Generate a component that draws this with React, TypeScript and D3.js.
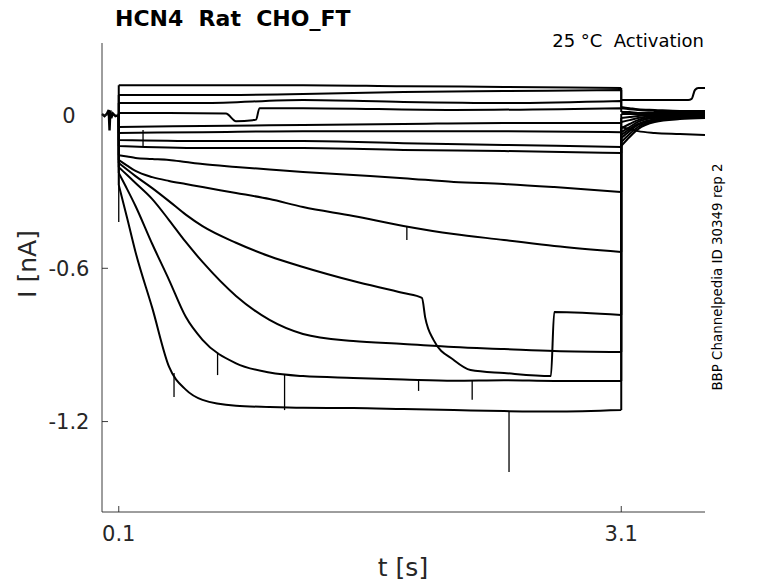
import * as React from 'react';
import * as d3 from 'd3';

// holding period before the test pulse (all sweeps overlap here)
const holdTime = [0, 0.015, 0.03, 0.04, 0.045, 0.05, 0.055, 0.065, 0.08, 0.1];
const holdCurrent = [0.004, -0.004, 0.006, 0.02, -0.06, 0.018, -0.012, 0.006, -0.004, 0];

// sample times used for the test pulse
const pulseTime = [0.1, 0.15, 0.2, 0.3, 0.4, 0.5, 0.6, 0.8, 1.0, 1.2, 1.5, 1.8, 2.1, 2.4, 2.7, 3.1];
const flatTime = [0.1, 0.6, 1.2, 1.8, 2.4, 3.1];
const dipTime = [0.1, 0.4, 0.74, 0.8, 0.9, 0.92, 0.94, 1.2, 2.1, 3.1];
const jumpTime = [0.1, 0.2, 0.3, 0.4, 0.5, 0.6, 0.8, 1.0, 1.2, 1.5, 1.8, 1.91, 1.93, 1.98, 2.1, 2.2, 2.4, 2.68, 2.7, 3.1];

// sample times for the tail after the pulse
const tailTime = [3.1, 3.15, 3.2, 3.3, 3.45, 3.6];
const tailTimeTop = [3.1, 3.3, 3.5, 3.52, 3.54, 3.56, 3.6];

// currents during the pulse [nA]
const sweepU1 = [0.117, 0.117, 0.117, 0.113, 0.11, 0.106];
const sweepU2 = [0.078, 0.078, 0.082, 0.09, 0.094, 0.098];
const sweepU3 = [0.047, 0.047, 0.059, 0.051, 0.047, 0.055];
const sweepU4 = [0.008, 0.008, 0.006, -0.024, -0.02, -0.018, 0.027, 0.027, 0.02, 0.027];
const sweepU5 = [-0.047, -0.043, -0.039, -0.035, -0.031, -0.031];
const sweepU6 = [-0.07, -0.067, -0.063, -0.063, -0.063, -0.067];
const sweepU7 = [-0.098, -0.102, -0.102, -0.11, -0.117, -0.125];
const sweepU8 = [-0.121, -0.129, -0.129, -0.137, -0.141, -0.149];
const sweepF = [-0.157, -0.162, -0.168, -0.172, -0.176, -0.184, -0.192, -0.203, -0.213, -0.223, -0.235, -0.247, -0.262, -0.27, -0.282, -0.301];
const sweepE = [-0.176, -0.198, -0.219, -0.243, -0.258, -0.27, -0.282, -0.305, -0.329, -0.36, -0.395, -0.434, -0.466, -0.489, -0.513, -0.536];
const sweepD = [-0.188, -0.239, -0.286, -0.337, -0.39, -0.435, -0.5, -0.553, -0.595, -0.65, -0.697, -0.716, -0.794, -0.881, -0.959, -0.998, -1.01, -1.022, -0.771, -0.783];
const sweepC = [-0.204, -0.235, -0.266, -0.329, -0.411, -0.497, -0.575, -0.708, -0.802, -0.857, -0.885, -0.896, -0.908, -0.916, -0.924, -0.928];
const sweepB = [-0.227, -0.29, -0.356, -0.505, -0.645, -0.79, -0.88, -0.972, -1.008, -1.022, -1.029, -1.035, -1.04, -1.038, -1.041, -1.041];
const sweepA = [-0.274, -0.403, -0.536, -0.755, -0.985, -1.075, -1.115, -1.138, -1.143, -1.146, -1.147, -1.151, -1.155, -1.159, -1.161, -1.155];

// tail currents [nA]
const tailU1 = [0.059, 0.059, 0.059, 0.063, 0.098, 0.106, 0.106];
const tailU2 = [0.027, 0.023, 0.02, 0.016, 0.012, 0.012];
const tailU3 = [0.031, 0.027, 0.023, 0.02, 0.016, 0.016];
const tailU4 = [0.012, 0.012, 0.008, 0.008, 0.008, 0.008];
const tailU5 = [0.004, 0.004, 0.004, 0.004, 0, 0.004];
const tailU6 = [-0.012, -0.008, -0.004, 0, 0, 0];
const tailU7 = [-0.027, -0.02, -0.012, -0.004, -0.004, -0.004];
const tailU8 = [-0.047, -0.055, -0.063, -0.07, -0.074, -0.078];
const tailF = [-0.051, -0.035, -0.02, -0.008, -0.004, -0.004];
const tailE = [-0.067, -0.047, -0.027, -0.012, -0.008, -0.008];
const tailD = [-0.078, -0.055, -0.035, -0.016, -0.008, -0.008];
const tailC = [-0.09, -0.063, -0.039, -0.02, -0.012, -0.008];
const tailB = [-0.106, -0.074, -0.047, -0.023, -0.012, -0.012];
const tailA = [-0.121, -0.086, -0.055, -0.027, -0.016, -0.012];

// brief artefacts: time, start current, end current
const spikeTime = [0.1, 0.245, 0.43, 0.69, 1.09, 1.82, 1.89, 2.21, 2.43];
const spikeFrom = [0, -0.121, -1.01, -0.93, -1.015, -0.434, -1.041, -1.041, -1.159];
const spikeTo = [-0.419, -0.059, -1.104, -1.018, -1.155, -0.489, -1.08, -1.115, -1.397];

const xTicks = [0.1, 3.1];
const xTickLabels = ['0.1', '3.1'];
const yTicks = [-1.2, -0.6, 0];
const yTickLabels = ['-1.2', '-0.6', '0'];

const sweeps = [
  { t: flatTime, i: sweepU1, tt: tailTimeTop, ti: tailU1 },
  { t: flatTime, i: sweepU2, tt: tailTime, ti: tailU2 },
  { t: flatTime, i: sweepU3, tt: tailTime, ti: tailU3 },
  { t: dipTime, i: sweepU4, tt: tailTime, ti: tailU4 },
  { t: flatTime, i: sweepU5, tt: tailTime, ti: tailU5 },
  { t: flatTime, i: sweepU6, tt: tailTime, ti: tailU6 },
  { t: flatTime, i: sweepU7, tt: tailTime, ti: tailU7 },
  { t: flatTime, i: sweepU8, tt: tailTime, ti: tailU8 },
  { t: pulseTime, i: sweepF, tt: tailTime, ti: tailF },
  { t: pulseTime, i: sweepE, tt: tailTime, ti: tailE },
  { t: jumpTime, i: sweepD, tt: tailTime, ti: tailD },
  { t: pulseTime, i: sweepC, tt: tailTime, ti: tailC },
  { t: pulseTime, i: sweepB, tt: tailTime, ti: tailB },
  { t: pulseTime, i: sweepA, tt: tailTime, ti: tailA },
];

const W = 778;
const H = 583;
const font = '"DejaVu Sans", sans-serif';
const axisColor = '#262626';

const App: React.FC = () => {
  const x = d3.scaleLinear().domain([0, 3.6]).range([102, 705]);
  const y = d3.scaleLinear().domain([-1.554, 0.282]).range([512, 43]);

  const straight = d3.line<[number, number]>().x(d => x(d[0])).y(d => y(d[1]));
  const smooth = d3.line<[number, number]>().x(d => x(d[0])).y(d => y(d[1])).curve(d3.curveMonotoneX);
  const zip = (t: number[], v: number[]) => t.map((ti, k) => [ti, v[k]] as [number, number]);

  const holdPath = straight(zip(holdTime, holdCurrent)) || '';

  const sweepPaths = sweeps.map(s => {
    const pulse = zip(s.t, s.i);
    const tail = zip(s.tt, s.ti);
    const stepIn: [number, number][] = [[s.t[0], 0], pulse[0]];
    const stepOut: [number, number][] = [pulse[pulse.length - 1], tail[0]];
    return (straight(stepIn) || '') + (smooth(pulse) || '') + (straight(stepOut) || '') + (smooth(tail) || '');
  });

  const [x0, x1] = x.range();
  const [yb, yt] = y.range();

  return (
    <div style={{ position: 'fixed', left: 0, top: 0 }}>
      <svg width={W} height={H} style={{ display: 'block', background: '#fff' }}>
        <path d={holdPath} fill="none" stroke="#000" strokeWidth={2.4} />
        {sweepPaths.map((d, k) => (
          <path key={k} d={d} fill="none" stroke="#000" strokeWidth={2} strokeLinejoin="round" />
        ))}
        {spikeTime.map((t, k) => (
          <line key={k} x1={x(t)} x2={x(t)} y1={y(spikeFrom[k])} y2={y(spikeTo[k])} stroke="#000" strokeWidth={1.3} />
        ))}

        {/* axes */}
        <line x1={x0} x2={x1} y1={yb} y2={yb} stroke={axisColor} strokeWidth={0.9} />
        <line x1={x0} x2={x0} y1={yb} y2={yt} stroke={axisColor} strokeWidth={0.9} />
        {xTicks.map((t, k) => (
          <g key={k}>
            <line x1={x(t)} x2={x(t)} y1={yb} y2={yb - 6} stroke={axisColor} strokeWidth={0.9} />
            <text x={x(t)} y={541} textAnchor="middle" fontFamily={font} fontSize={21} fill={axisColor}>
              {xTickLabels[k]}
            </text>
          </g>
        ))}
        {yTicks.map((v, k) => (
          <g key={k}>
            <line x1={x0} x2={x0 + 6} y1={y(v)} y2={y(v)} stroke={axisColor} strokeWidth={0.9} />
            <text x={69} y={y(v)} dy="0.36em" textAnchor="middle" fontFamily={font} fontSize={21} fill={axisColor}>
              {yTickLabels[k]}
            </text>
          </g>
        ))}

        <text x={403} y={576} textAnchor="middle" fontFamily={font} fontSize={25} fill={axisColor}>
          t [s]
        </text>
        <text transform="translate(36,264) rotate(-90)" textAnchor="middle" fontFamily={font} fontSize={25} fill={axisColor}>
          I [nA]
        </text>

        <text x={115} y={26} fontFamily={font} fontSize={22} fontWeight="bold" fill="#000" style={{ whiteSpace: 'pre' }}>
          {'HCN4  Rat  CHO_FT'}
        </text>
        <text x={704} y={47} textAnchor="end" fontFamily={font} fontSize={18} fill="#000" style={{ whiteSpace: 'pre' }}>
          {'25 °C  Activation'}
        </text>
        <text transform="translate(722,277) rotate(-90)" textAnchor="middle" fontFamily={font} fontSize={13.4} fill="#000">
          BBP Channelpedia ID 30349 rep 2
        </text>
      </svg>
    </div>
  );
};

export default App;
